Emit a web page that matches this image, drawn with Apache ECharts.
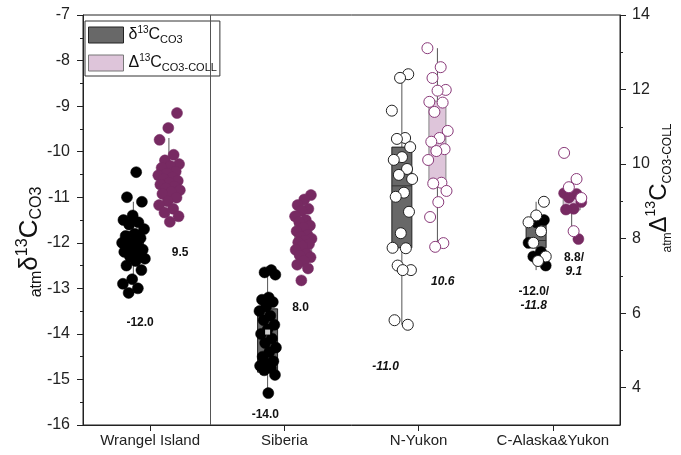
<!DOCTYPE html>
<html><head><meta charset="utf-8">
<script src="https://cdn.jsdelivr.net/npm/echarts@6/dist/echarts.min.js"></script>
<style>html,body{margin:0;padding:0;background:#fff}#c{width:681px;height:455px}</style>
</head><body><div id="c"></div>
<script>
// ---------------- DATA ----------------
const categories = ['Wrangel Island', 'Siberia', 'N-Yukon', 'C-Alaska&Yukon'];
const leftTicks = [-16, -15, -14, -13, -12, -11, -10, -9, -8, -7];
const rightTicks = [4, 6, 8, 10, 12, 14];
const rightMinorTicks = [5, 7, 9, 11, 13];

// atm δ13C CO3 (left axis)
const wrangelCO3 = [-10.45, -11.0, -11.1, -11.4, -11.5, -11.55, -11.6, -11.7, -11.8, -11.85, -11.9, -12.0, -12.0, -12.05, -12.1, -12.15, -12.2, -12.2, -12.25, -12.3, -12.35, -12.4, -12.5, -12.6, -12.8, -12.9, -13.0, -13.1];
const siberiaCO3 = [-12.6, -12.65, -12.7, -13.2, -13.25, -13.3, -13.4, -13.5, -13.6, -13.7, -13.8, -13.9, -14.0, -14.1, -14.2, -14.3, -14.4, -14.5, -14.6, -14.65, -14.7, -14.75, -14.8, -14.9, -15.3];
const nyukonCO3 = [-8.3, -8.38, -9.1, -9.7, -9.72, -9.9, -10.12, -10.18, -10.38, -10.51, -10.6, -10.9, -10.99, -11.32, -11.79, -12.11, -12.12, -12.5, -12.6, -12.6, -13.7, -13.8];
const alaskaCO3Filled = [-11.5, -11.55, -12.0, -12.2, -12.3, -12.5];
const alaskaCO3Open = [-11.1, -11.4, -11.55, -11.75, -12.0, -12.3, -12.4];

// atm Δ13C CO3-COLL (right axis)
const wrangelColl = [11.37, 10.97, 10.65, 10.25, 10.1, 10.0, 9.95, 9.9, 9.8, 9.75, 9.7, 9.65, 9.6, 9.55, 9.5, 9.45, 9.4, 9.35, 9.3, 9.25, 9.2, 9.1, 9.0, 8.9, 8.8, 8.7, 8.6, 8.45];
const siberiaColl = [9.17, 9.05, 8.9, 8.8, 8.75, 8.6, 8.5, 8.45, 8.35, 8.3, 8.2, 8.1, 8.05, 8.0, 7.95, 7.9, 7.85, 7.8, 7.7, 7.6, 7.55, 7.5, 7.4, 7.3, 7.2, 6.88];
const nyukonColl = [13.11, 12.6, 12.31, 11.99, 11.97, 11.67, 11.65, 11.4, 10.89, 10.7, 10.6, 10.4, 10.35, 10.11, 9.5, 9.48, 9.28, 8.98, 8.58, 7.88, 7.78];
const alaskaCollFilled = [9.22, 9.2, 9.1, 8.98, 8.8, 8.78, 7.99];
const alaskaCollOpen = [10.3, 9.6, 9.38, 9.09, 8.2];

// box statistics per category: [q1, median, q3, whiskerLow, whiskerHigh]
const boxCO3 = [
  [-12.3, -12.0, -11.75, -12.97, -11.1],
  [-14.84, -14.11, -13.45, -15.32, -12.66],
  [-12.11, -10.75, -9.9, -13.8, -8.3],
  [-12.11, -11.95, -11.52, -12.6, -11.1]
];
const boxColl = [
  [9.3, 9.5, 9.84, 8.45, 10.7],
  [7.51, 8.0, 8.42, 7.2, 9.17],
  [9.52, 10.67, 11.69, 7.78, 13.11],
  [8.77, 9.1, 9.28, 8.2, 9.6]
];
const meanCO3Siberia = -13.96;

// annotation texts
const annotations = [
  { cat: 0, text: '-12.0', italic: false },
  { cat: 0, text: '9.5', italic: false },
  { cat: 1, text: '-14.0', italic: false },
  { cat: 1, text: '8.0', italic: false },
  { cat: 2, text: '-11.0', italic: true },
  { cat: 2, text: '10.6', italic: true },
  { cat: 3, text: '-12.0/', italic: false },
  { cat: 3, text: '-11.8', italic: true },
  { cat: 3, text: '8.8/', italic: false },
  { cat: 3, text: '9.1', italic: true }
];
// annotation anchors (layout): [x offset from category, left-axis y value]
const annotationAnchors = [
  [-0.075, -13.76], [0.224, -12.22], [-0.142, -15.78], [0.12, -13.43],
  [-0.246, -14.73], [0.18, -12.86], [-0.142, -13.08], [-0.142, -13.39],
  [0.157, -12.33], [0.157, -12.64]
];

// ---------------- LAYOUT / STYLE ----------------
const FONT = '"Liberation Sans", Arial, sans-serif';
const PURPLE = '#772a62';
const PINK = '#dec5da';
const DARK = '#686868';
const offsets = [-0.125, 0.14];
const boxWidth = [20, 17];

function jitter(i, spread) {
  const k = ((i * 0.6180339887) % 1) - 0.5;
  return k * 2 * spread;
}
function pts(values, cat, side, spread) {
  return values.map((v, i) => [cat + 1 + offsets[side] + jitter(i + 1 + cat * 5 + side * 2, spread), v]);
}
function scatter(values, cat, side, filled, spread) {
  const col = side === 0 ? '#000' : PURPLE;
  return {
    type: 'scatter', xAxisIndex: 1, yAxisIndex: side === 0 ? 0 : 1,
    data: pts(values, cat, side, spread), symbolSize: 11, z: 5,
    itemStyle: filled ? { color: col, borderColor: col, borderWidth: 0.5, opacity: 1 }
                      : { color: '#fff', borderColor: side === 0 ? '#222' : '#8a3a7a', borderWidth: 1, opacity: 1 },
    silent: true
  };
}
function boxSeries(name, stats, side) {
  return {
    name: name, type: 'custom', xAxisIndex: 1, yAxisIndex: side === 0 ? 0 : 1, z: 3,
    itemStyle: side === 0 ? { color: DARK, borderColor: '#222' } : { color: PINK, borderColor: '#888' },
    data: stats.map((s, i) => [i + 1 + offsets[side]].concat(s)),
    encode: { x: 0, y: [1, 2, 3, 4, 5] },
    renderItem: function (params, api) {
      const x = api.value(0);
      const c = (v) => api.coord([x, v]);
      const pq1 = c(api.value(1)), pm = c(api.value(2)), pq3 = c(api.value(3)), plo = c(api.value(4)), phi = c(api.value(5));
      const w = boxWidth[side];
      return {
        type: 'group', children: [
          { type: 'line', shape: { x1: plo[0], y1: plo[1], x2: phi[0], y2: phi[1] }, style: { stroke: '#555', lineWidth: 1 } },
          { type: 'rect', shape: { x: pq3[0] - w / 2, y: pq3[1], width: w, height: pq1[1] - pq3[1] },
            style: { fill: side === 0 ? DARK : PINK, stroke: side === 0 ? '#222' : '#888', lineWidth: 1 } },
          { type: 'line', shape: { x1: pm[0] - w / 2, y1: pm[1], x2: pm[0] + w / 2, y2: pm[1] }, style: { stroke: side === 0 ? '#333' : '#888', lineWidth: 1 } }
        ]
      };
    }
  };
}

const series = [
  boxSeries('co3', boxCO3, 0),
  boxSeries('coll', boxColl, 1),
  {
    type: 'scatter', xAxisIndex: 1, yAxisIndex: 0, symbol: 'rect', symbolSize: 5, z: 6,
    itemStyle: { color: '#fff' }, data: [[2 + offsets[0], meanCO3Siberia]], silent: true,
    markLine: {
      silent: true, symbol: 'none', label: { show: false },
      lineStyle: { color: '#555', width: 1, type: 'solid' },
      data: [{ xAxis: 1.45 }]
    }
  },
  scatter(wrangelCO3, 0, 0, true, 0.09),
  scatter(wrangelColl, 0, 1, true, 0.085),
  scatter(siberiaCO3, 1, 0, true, 0.065),
  scatter(siberiaColl, 1, 1, true, 0.065),
  scatter(nyukonCO3, 2, 0, false, 0.08),
  scatter(nyukonColl, 2, 1, false, 0.08),
  scatter(alaskaCO3Filled, 3, 0, true, 0.075),
  scatter(alaskaCO3Open, 3, 0, false, 0.075),
  scatter(alaskaCollFilled, 3, 1, true, 0.075),
  scatter(alaskaCollOpen, 3, 1, false, 0.075),
  {
    type: 'custom', xAxisIndex: 1, yAxisIndex: 0, z: 7, silent: true,
    data: annotations.map((a, i) => [a.cat + 1 + annotationAnchors[i][0], annotationAnchors[i][1], i]),
    encode: { x: 0, y: 1 },
    renderItem: function (params, api) {
      const p = api.coord([api.value(0), api.value(1)]);
      const a = annotations[api.value(2)];
      return { type: 'text', x: p[0], y: p[1], style: {
        text: a.text, fill: '#111', font: (a.italic ? 'italic ' : '') + 'bold 12px ' + FONT,
        align: 'center', verticalAlign: 'middle' } };
    }
  }
];

function richName(b, p, s) {
  return {
    b: { fontSize: b, fontFamily: FONT, color: '#111', lineHeight: 30, verticalAlign: 'middle' },
    p: { fontSize: p, fontFamily: FONT, color: '#111', lineHeight: 30, verticalAlign: 'top' },
    s: { fontSize: s, fontFamily: FONT, color: '#111', lineHeight: 30, verticalAlign: 'bottom' }
  };
}

const option = {
  animation: false,
  backgroundColor: '#fff',
  grid: { left: 83, right: 61, top: 15, bottom: 30, outerBoundsMode: 'none', containLabel: false,
          show: true, borderColor: '#222', borderWidth: 1, backgroundColor: 'transparent' },
  legend: {
    left: 85, top: 21, orient: 'vertical', icon: 'rect', itemWidth: 35, itemHeight: 16, itemGap: 8,
    borderColor: '#333', borderWidth: 1, padding: [4, 3, 3, 3], backgroundColor: '#fff',
    data: [
      { name: 'co3', itemStyle: { color: DARK, borderColor: '#222', borderWidth: 1 } },
      { name: 'coll', itemStyle: { color: PINK, borderColor: '#777', borderWidth: 1 } }
    ],
    formatter: (n) => n === 'co3' ? '{n|δ}{sup|13}{n|C}{sub|CO3}' : '{n|Δ}{sup|13}{n|C}{sub|CO3-COLL}',
    textStyle: {
      rich: {
        n: { fontSize: 16, fontFamily: FONT, color: '#111', lineHeight: 20, verticalAlign: 'middle' },
        sup: { fontSize: 10, fontFamily: FONT, color: '#111', lineHeight: 20, verticalAlign: 'top' },
        sub: { fontSize: 11, fontFamily: FONT, color: '#111', lineHeight: 20, verticalAlign: 'bottom' }
      }
    },
    selectedMode: false
  },
  xAxis: [
    {
      type: 'category', data: categories, gridIndex: 0, position: 'bottom',
      axisLine: { show: true, lineStyle: { color: '#222' } },
      axisTick: { show: true, alignWithLabel: true, interval: 0, length: 6, inside: false, lineStyle: { color: '#222' } },
      axisLabel: { color: '#222', fontSize: 15, fontFamily: FONT, margin: 8, interval: 0 },
      splitLine: { show: false }
    },
    { type: 'value', min: 0.5, max: 4.5, show: false, splitLine: { show: false } }
  ],
  yAxis: [
    {
      type: 'value', min: -16, max: -7, interval: 1, position: 'left',
      name: '{s|atm}{b|δ}{p|13}{b|C}{s|CO3}', nameLocation: 'middle', nameRotate: 90, nameGap: 38,
      nameMoveOverlap: false,
      nameTextStyle: { rich: richName(26, 16, 16), padding: [0, 44, 0, 0] },
      axisLine: { show: true, lineStyle: { color: '#222' } },
      axisTick: { show: true, length: 6, lineStyle: { color: '#222' } },
      minorTick: { show: true, splitNumber: 2, length: 3, lineStyle: { color: '#222' } },
      axisLabel: { color: '#222', fontSize: 16, fontFamily: FONT, margin: 13 },
      splitLine: { show: false }, minorSplitLine: { show: false }
    },
    {
      type: 'value', min: 3, max: 14, position: 'right',
      name: '{s|atm}{b|Δ}{p|13}{b|C}{s|CO3-COLL}', nameLocation: 'middle', nameRotate: 90, nameGap: 24,
      nameMoveOverlap: false,
      nameTextStyle: { rich: richName(24, 14, 12), padding: [0, 0, 0, 64] },
      axisLine: { show: true, lineStyle: { color: '#222' } },
      axisTick: { show: true, length: 6, customValues: rightTicks, lineStyle: { color: '#222' } },
      axisLabel: { color: '#222', fontSize: 16, fontFamily: FONT, margin: 12, customValues: rightTicks },
      splitLine: { show: false }
    },
    {
      type: 'value', min: 3, max: 14, position: 'right',
      axisLine: { show: false },
      axisTick: { show: true, length: 3, customValues: rightMinorTicks, lineStyle: { color: '#222' } },
      axisLabel: { show: false },
      splitLine: { show: false }
    }
  ],
  series: series
};

const chart = echarts.init(document.getElementById('c'), null, { renderer: 'canvas' });
chart.setOption(option);
</script>
</body></html>
